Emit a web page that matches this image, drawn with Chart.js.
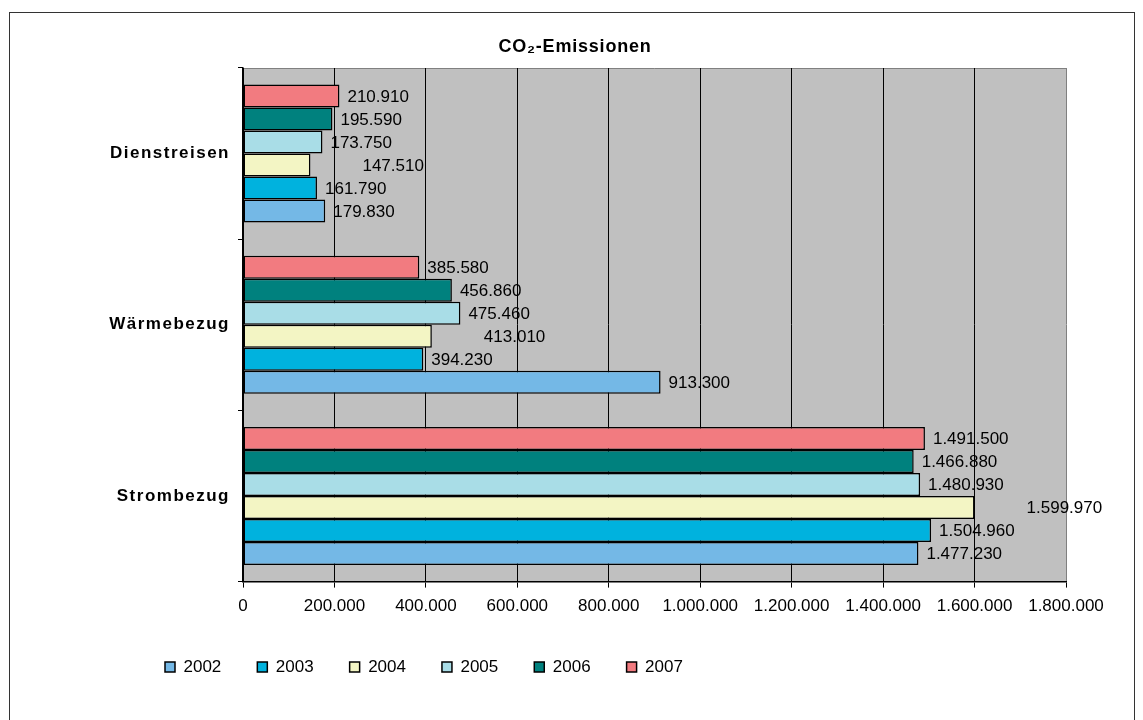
<!DOCTYPE html>
<html><head><meta charset="utf-8">
<script src="https://cdn.jsdelivr.net/npm/chart.js@4.4.1/dist/chart.umd.min.js"></script>
<style>
html,body{margin:0;padding:0;background:#fff;}
#wrap{position:relative;width:1143px;height:720px;overflow:hidden;}
#frame{position:absolute;left:9px;top:12px;width:1126px;height:720px;border:1.5px solid #333;box-sizing:border-box;pointer-events:none;}
canvas{position:absolute;left:0;top:0;}
</style></head><body>
<div id="wrap"><canvas id="c" width="1143" height="720"></canvas><div id="frame"></div></div>
<script>
// ---- data ----
const categories = ['Dienstreisen', 'Wärmebezug', 'Strombezug'];
const years = ['2002', '2003', '2004', '2005', '2006', '2007'];
const v2002 = [179830, 913300, 1477230];
const v2003 = [161790, 394230, 1504960];
const v2004 = [147510, 413010, 1599970];
const v2005 = [173750, 475460, 1480930];
const v2006 = [195590, 456860, 1466880];
const v2007 = [210910, 385580, 1491500];
const xTickValues = [0, 200000, 400000, 600000, 800000, 1000000, 1200000, 1400000, 1600000, 1800000];
const chartTitle = 'CO₂-Emissionen';

// ---- styling ----
const colors = {
  '2002': '#74B8E6', '2003': '#00B2DE', '2004': '#F3F5C4',
  '2005': '#A9DDE7', '2006': '#00817E', '2007': '#F27B80'
};
const labelShift = { '2004': 44 };
const FONT = "'Liberation Sans', Arial, sans-serif";
Chart.defaults.font.family = FONT;
Chart.defaults.color = '#000';

function fmt(n) { return String(n).replace(/\B(?=(\d{3})+(?!\d))/g, '.'); }

const seriesByYear = { '2002': v2002, '2003': v2003, '2004': v2004, '2005': v2005, '2006': v2006, '2007': v2007 };
// 2007 first so it is drawn at the top of each group; legend is reversed
const datasets = years.slice().reverse().map(y => ({
  label: y,
  data: seriesByYear[y],
  backgroundColor: colors[y],
  borderColor: '#000',
  borderWidth: 1.5,
  borderSkipped: false,
  categoryPercentage: 0.806,
  barPercentage: 1.0,
  labelShift: labelShift[y] || 0
}));

const plotBg = {
  id: 'plotBg',
  beforeDraw(chart) {
    const a = chart.chartArea, ctx = chart.ctx;
    ctx.save();
    ctx.fillStyle = '#C0C0C0';
    ctx.fillRect(a.left, a.top, a.right - a.left, a.bottom - a.top);
    ctx.strokeStyle = '#808080';
    ctx.lineWidth = 1;
    ctx.beginPath();
    ctx.moveTo(a.left, a.top + 0.5);
    ctx.lineTo(a.right, a.top + 0.5);
    ctx.stroke();
    ctx.restore();
  }
};

const valueLabels = {
  id: 'valueLabels',
  afterDatasetsDraw(chart) {
    const ctx = chart.ctx;
    ctx.save();
    ctx.font = '17px ' + FONT;
    ctx.fillStyle = '#000';
    ctx.textAlign = 'left';
    ctx.textBaseline = 'middle';
    chart.data.datasets.forEach((ds, i) => {
      const meta = chart.getDatasetMeta(i);
      meta.data.forEach((bar, j) => {
        ctx.fillText(fmt(ds.data[j]), bar.x + 8 + ds.labelShift, bar.y + 1);
      });
    });
    ctx.restore();
  }
};

function spaced(obj, method, chart, sp) {
  if (!obj || obj['_sp_' + method]) return;
  const orig = obj[method].bind(obj);
  obj[method] = function (...args) {
    const ctx = chart.ctx;
    ctx.save();
    ctx.letterSpacing = sp;
    orig(...args);
    ctx.restore();
  };
  obj['_sp_' + method] = true;
}

const layoutTweaks = {
  id: 'layoutTweaks',
  afterLayout(chart) {
    const lg = chart.legend;
    if (lg) {
      const h = lg.bottom - lg.top;
      lg.left = 129; lg.right = 1143;
      lg.top = 622.5; lg.bottom = 622.5 + h;
    }
    const t = chart.titleBlock;
    if (t) { t.left = 0; t.right = 1150; }
  },
  afterUpdate(chart) {
    spaced(chart.scales.y, 'drawLabels', chart, '1.5px');
    spaced(chart.titleBlock, 'draw', chart, '0.8px');
  }
};

new Chart(document.getElementById('c'), {
  type: 'bar',
  data: { labels: categories, datasets },
  plugins: [plotBg, valueLabels, layoutTweaks],
  options: {
    indexAxis: 'y',
    responsive: false,
    animation: false,
    devicePixelRatio: 1,
    layout: { padding: { left: 0, right: 77, top: 0, bottom: 31 } },
    plugins: {
      title: {
        display: true, text: chartTitle, color: '#000',
        font: { size: 18, weight: 'bold' },
        padding: { top: 36, bottom: 10.4 }
      },
      legend: {
        position: 'bottom', align: 'start', reverse: true,
        labels: { boxWidth: 10, boxHeight: 10, padding: 36, color: '#000', font: { size: 17 } }
      },
      tooltip: { enabled: false }
    },
    scales: {
      x: {
        min: 0, max: 1800000,
        afterBuildTicks(scale) { scale.ticks = xTickValues.map(v => ({ value: v })); },
        ticks: { callback: v => fmt(v), color: '#000', font: { size: 17 }, padding: 9, maxRotation: 0, autoSkip: false },
        grid: {
          color: c => (c.tick && c.tick.value === 1800000) ? '#808080' : '#000',
          tickColor: '#000', lineWidth: 1, tickLength: 6
        },
        border: { color: '#000', width: 1.5 }
      },
      y: {
        afterFit(scale) { scale.width = 243; },
        ticks: { color: '#000', font: { size: 17, weight: 'bold' }, padding: 8 },
        grid: { drawOnChartArea: false, tickLength: 5, color: '#000', offset: true },
        border: { color: '#000', width: 1.5 }
      }
    }
  }
});
</script>
</body></html>
